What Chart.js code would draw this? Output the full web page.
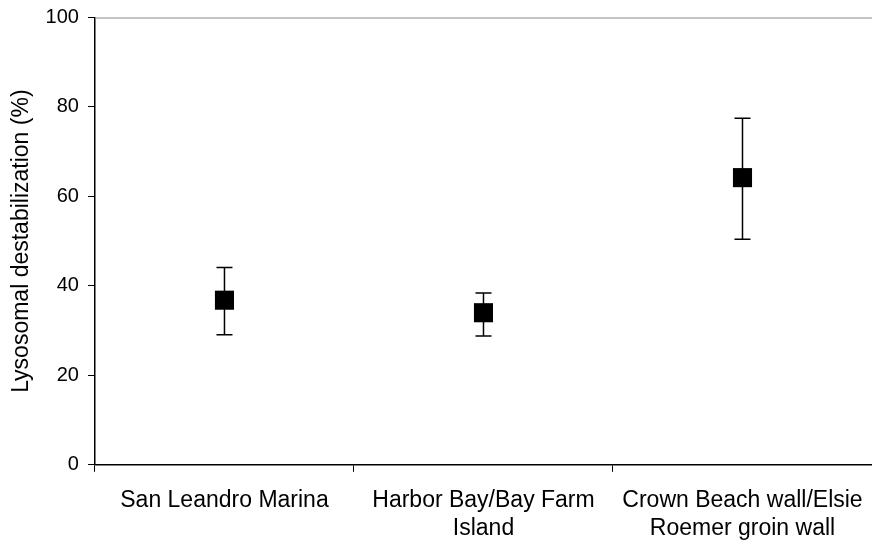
<!DOCTYPE html>
<html>
<head>
<meta charset="utf-8">
<script src="https://cdn.jsdelivr.net/npm/chart.js@4/dist/chart.umd.min.js"></script>
<style>
  html, body { margin: 0; padding: 0; background: #fff; }
  #wrap { width: 872px; height: 544px; }
</style>
</head>
<body>
<div id="wrap"><canvas id="chart" width="872" height="544"></canvas></div>
<script>
const categories = [
    'San Leandro Marina',
    ['Harbor Bay/Bay Farm', 'Island'],
    ['Crown Beach wall/Elsie', 'Roemer groin wall']
];
const means = [36.8, 34.0, 64.2];
const upper = [44.1, 38.4, 77.5];
const lower = [29.1, 28.8, 50.4];
const yTicks = [0, 20, 40, 60, 80, 100];

// line controller without the extra padding it reserves for big markers
class DotController extends Chart.LineController {
    getMaxOverflow() { return false; }
}
DotController.id = 'dots';
DotController.defaults = Chart.LineController.defaults;
DotController.overrides = Chart.LineController.overrides;
Chart.register(DotController);

// error bars drawn under the markers
const errorBars = {
    id: 'errorBars',
    beforeDatasetsDraw(chart) {
        const ctx = chart.ctx;
        const x = chart.scales.x, y = chart.scales.y;
        ctx.save();
        ctx.strokeStyle = '#000';
        ctx.lineWidth = 1.5;
        means.forEach((m, i) => {
            const px = x.getPixelForValue(i);
            const top = y.getPixelForValue(upper[i]);
            const bot = y.getPixelForValue(lower[i]);
            ctx.beginPath();
            ctx.moveTo(px, top); ctx.lineTo(px, bot);
            ctx.moveTo(px - 8, top); ctx.lineTo(px + 8, top);
            ctx.moveTo(px - 8, bot); ctx.lineTo(px + 8, bot);
            ctx.stroke();
        });
        ctx.restore();
    }
};

// thin grey line along the top of the plot
const topLine = {
    id: 'topLine',
    afterDraw(chart) {
        const a = chart.chartArea, ctx = chart.ctx;
        ctx.save();
        ctx.strokeStyle = '#888';
        ctx.lineWidth = 1;
        ctx.beginPath();
        ctx.moveTo(a.left, a.top + 0.5);
        ctx.lineTo(a.right, a.top + 0.5);
        ctx.stroke();
        ctx.restore();
    }
};

const ctx = document.getElementById('chart').getContext('2d');

const chart = new Chart(ctx, {
    type: 'dots',
    data: {
        labels: categories,
        datasets: [{
            label: 'Lysosomal destabilization',
            data: means,
            showLine: false,
            pointStyle: 'rect',
            pointRadius: 13.5,
            pointHoverRadius: 13.5,
            backgroundColor: '#000',
            borderColor: '#000',
            pointBorderWidth: 0
        }]
    },
    options: {
        responsive: false,
        maintainAspectRatio: false,
        animation: false,
        layout: { padding: { left: 8, right: 0, top: 0, bottom: 2 } },
        plugins: {
            legend: { display: false },
            tooltip: { enabled: false }
        },
        scales: {
            x: {
                offset: true,
                afterFit(scale) {
                    // tick + gap + two text lines, no extra space below
                    scale.height = 7 + 15 + 2 * 23 * 1.2;
                    scale.paddingLeft = 0;
                    scale.paddingRight = 0;
                },
                grid: {
                    offset: true,
                    drawOnChartArea: false,
                    color: '#000',
                    tickLength: 7,
                    tickColor: '#000'
                },
                border: { color: '#000', width: 1.5 },
                ticks: {
                    color: '#000',
                    font: { family: 'Liberation Sans', size: 23, lineHeight: 1.2 },
                    padding: 15,
                    maxRotation: 0,
                    autoSkip: false
                }
            },
            y: {
                min: 0,
                max: 100,
                afterBuildTicks(scale) {
                    scale.ticks = yTicks.map(v => ({ value: v }));
                },
                grid: {
                    drawOnChartArea: false,
                    color: '#000',
                    tickLength: 7,
                    tickColor: '#000'
                },
                border: { color: '#000', width: 1.5 },
                ticks: {
                    color: '#000',
                    font: { family: 'Liberation Sans', size: 20, lineHeight: 0.85 },
                    padding: 9
                },
                title: {
                    display: true,
                    text: 'Lysosomal destabilization (%)',
                    color: '#000',
                    font: { family: 'Liberation Sans', size: 23, lineHeight: 1.2 },
                    padding: { top: 0, bottom: 1 }
                }
            }
        }
    },
    plugins: [errorBars, topLine]
});
</script>
</body>
</html>
